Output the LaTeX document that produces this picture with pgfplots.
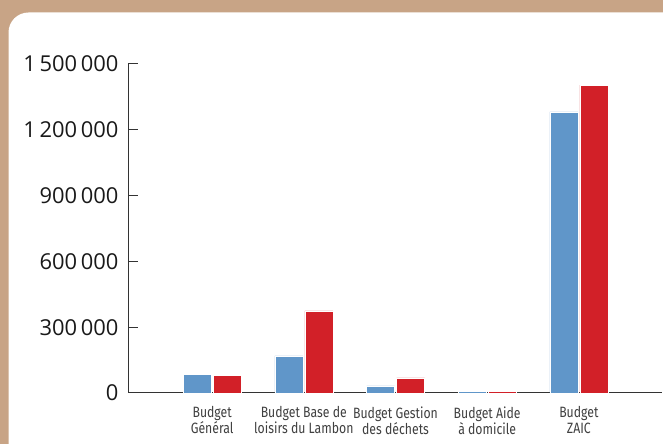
\documentclass[border=0pt]{standalone}
\usepackage{pgfplots}
\pgfplotsset{compat=1.18}
\usepackage{fontspec}
\setmainfont{Open Sans}
\newfontfamily\condfont[FakeStretch=0.82]{Fira Sans}
\definecolor{bgtan}{HTML}{C8A486}
\definecolor{barblue}{HTML}{6096C9}
\definecolor{barred}{HTML}{D22028}
\definecolor{axisgray}{HTML}{333333}
\pgfplotstableread{
x blue red
0 86600 80600
1 169000 374000
2 32000 68400
3 9000 6000
4 1282000 1404000
}\budgets
\begin{document}
\begin{tikzpicture}[x=1bp,y=1bp]
\useasboundingbox (0,0) rectangle (663,444);
\clip (0,0) rectangle (663,444);
\fill[bgtan] (0,0) rectangle (663,444);
\fill[white,rounded corners=20bp] (8.5,-30) rectangle (720,431.5);
\begin{axis}[
  at={(128bp,51bp)}, anchor=south west,
  scale only axis,
  width=534bp, height=329bp,
  xmin=-0.918, xmax=4.907,
  ymin=0, ymax=1500000,
  axis x line*=bottom, axis y line*=left,
  axis line style={axisgray, line width=1bp},
  ybar=2bp, bar width=28bp,
  xtick={0,1,2,3,4},
  xticklabels={{Budget\\Général},{Budget Base de\\loisirs du Lambon},{Budget Gestion\\des déchets},{Budget Aide\\à domicile},{Budget\\ZAIC}},
  x tick label style={align=center, font={\condfont\fontsize{15}{16}\selectfont}, text=black!75, yshift=-10bp},
  ytick={0,300000,600000,900000,1200000,1500000},
  yticklabels={0,{300\,000},{600\,000},{900\,000},{1\,200\,000},{1\,500\,000}},
  y tick label style={font={\fontsize{22}{24}\selectfont}, text=black!90, xshift=-6bp},
  scaled y ticks=false,
  tick align=inside,
  major tick length=10bp,
  x tick style={draw=none},
  y tick style={axisgray, line width=1bp},
  extra x ticks={4.907},
  extra x tick labels={},
  extra x tick style={major tick length=8bp, tick style={draw=axisgray, line width=1bp}},
  clip=false,
]
\addplot[fill=barblue, draw=white, line width=0.6bp] table[x=x,y=blue]{\budgets};
\addplot[fill=barred, draw=white, line width=0.6bp] table[x=x,y=red]{\budgets};
\end{axis}
\end{tikzpicture}
\end{document}
